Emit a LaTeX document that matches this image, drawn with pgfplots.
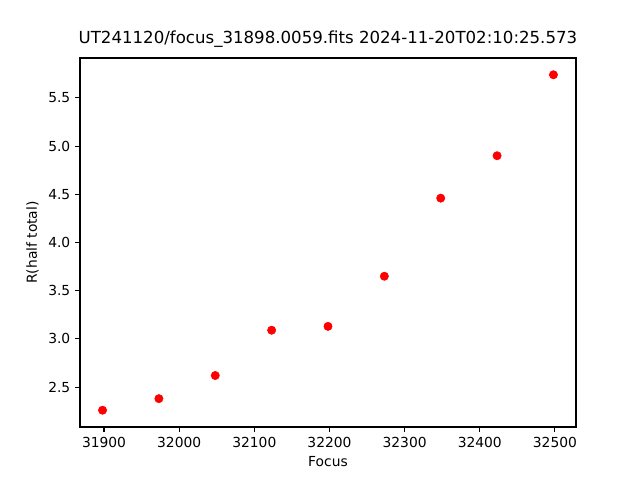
\documentclass[border=0pt]{standalone}
\usepackage{fontspec}
\setmainfont{DejaVu Sans}
\usepackage{pgfplots}
\pgfplotsset{compat=1.18}
\begin{document}
\begin{tikzpicture}
\path (0,0) rectangle (6.4in,4.8in);
\begin{axis}[
  at={(0.8in,0.53in)}, anchor=south west,
  scale only axis, width=4.96in, height=3.69in,
  xmin=31868, xmax=32528, ymin=2.086, ymax=5.914,
  xtick={31900,32000,32100,32200,32300,32400,32500},
  ytick={2.5,3.0,3.5,4.0,4.5,5.0,5.5},
  scaled x ticks=false,
  /pgf/number format/assume math mode=true,
  xticklabel style={/pgf/number format/.cd,fixed,precision=0,1000 sep={}},
  yticklabel style={/pgf/number format/.cd,fixed,fixed zerofill,precision=1},
  tick align=outside, major tick length=3.5pt,
  xtick pos=bottom, ytick pos=left,
  tick style={black, line width=0.8pt},
  axis line style={line width=0.8pt},
  ticklabel style={font=\fontsize{10}{12}\selectfont},
  xlabel={Focus}, ylabel={R(half total)},
  label style={font=\fontsize{10}{12}\selectfont},
  title={UT241120/focus\_31898.0059.fits 2024-11-20T02:10:25.573},
  title style={font=\fontsize{12}{14}\selectfont, yshift=-2pt},
]
\addplot[only marks, mark=*, mark size=3pt, color=red] coordinates {
(31898,2.26) (31973,2.38) (32048,2.62) (32123,3.09) (32198,3.13)
(32273,3.65) (32348,4.46) (32423,4.90) (32498,5.74)
};
\end{axis}
\end{tikzpicture}
\end{document}
